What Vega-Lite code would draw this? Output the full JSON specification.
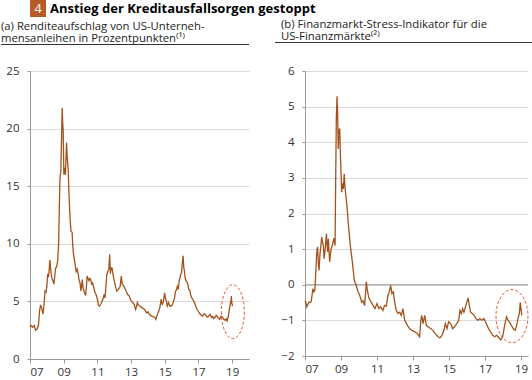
{
  "$schema": "https://vega.github.io/schema/vega-lite/v6.json",
  "padding": 0,
  "background": "white",
  "config": {
    "font": "Open Sans",
    "view": {"stroke": null},
    "axis": {"labelFontSize": 11.5, "labelColor": "#333", "domainColor": "#999", "tickColor": "#999", "gridColor": "#dadada", "labelFont": "Open Sans", "labelOverlap": false}
  },
  "datasets": {
    "credit": [
      {"year": 2007.0, "value": 2.8}, {"year": 2007.06, "value": 2.9}, {"year": 2007.15, "value": 2.75}, {"year": 2007.25, "value": 2.9}, {"year": 2007.33, "value": 2.5}, {"year": 2007.42, "value": 2.6}, {"year": 2007.5, "value": 2.9}, {"year": 2007.57, "value": 4.2}, {"year": 2007.63, "value": 4.7}, {"year": 2007.7, "value": 4.4}, {"year": 2007.77, "value": 3.9}, {"year": 2007.84, "value": 4.8}, {"year": 2007.89, "value": 5.9}, {"year": 2007.95, "value": 5.8}, {"year": 2008.0, "value": 6.3}, {"year": 2008.05, "value": 7.4}, {"year": 2008.1, "value": 7.1}, {"year": 2008.18, "value": 8.6}, {"year": 2008.24, "value": 7.6}, {"year": 2008.3, "value": 7.0}, {"year": 2008.36, "value": 6.8}, {"year": 2008.42, "value": 6.5}, {"year": 2008.47, "value": 7.2}, {"year": 2008.52, "value": 7.9}, {"year": 2008.58, "value": 8.0}, {"year": 2008.64, "value": 8.5}, {"year": 2008.7, "value": 10.0}, {"year": 2008.72, "value": 11.7}, {"year": 2008.76, "value": 14.5}, {"year": 2008.78, "value": 15.7}, {"year": 2008.83, "value": 16.3}, {"year": 2008.88, "value": 19.5}, {"year": 2008.91, "value": 21.8}, {"year": 2008.94, "value": 20.5}, {"year": 2008.97, "value": 19.8}, {"year": 2009.01, "value": 16.0}, {"year": 2009.05, "value": 16.6}, {"year": 2009.1, "value": 16.0}, {"year": 2009.14, "value": 17.5}, {"year": 2009.17, "value": 18.8}, {"year": 2009.21, "value": 17.5}, {"year": 2009.24, "value": 17.0}, {"year": 2009.27, "value": 16.4}, {"year": 2009.31, "value": 14.5}, {"year": 2009.35, "value": 13.1}, {"year": 2009.39, "value": 12.0}, {"year": 2009.43, "value": 11.1}, {"year": 2009.5, "value": 11.0}, {"year": 2009.54, "value": 9.8}, {"year": 2009.58, "value": 9.1}, {"year": 2009.64, "value": 8.6}, {"year": 2009.7, "value": 8.0}, {"year": 2009.74, "value": 7.6}, {"year": 2009.8, "value": 7.8}, {"year": 2009.86, "value": 7.4}, {"year": 2009.92, "value": 6.8}, {"year": 2009.97, "value": 6.6}, {"year": 2010.02, "value": 5.9}, {"year": 2010.06, "value": 6.3}, {"year": 2010.1, "value": 6.9}, {"year": 2010.15, "value": 6.2}, {"year": 2010.2, "value": 5.9}, {"year": 2010.25, "value": 5.7}, {"year": 2010.3, "value": 5.5}, {"year": 2010.35, "value": 6.3}, {"year": 2010.39, "value": 7.2}, {"year": 2010.44, "value": 7.0}, {"year": 2010.5, "value": 6.8}, {"year": 2010.55, "value": 7.0}, {"year": 2010.6, "value": 6.9}, {"year": 2010.66, "value": 6.5}, {"year": 2010.72, "value": 6.6}, {"year": 2010.79, "value": 6.2}, {"year": 2010.85, "value": 5.8}, {"year": 2010.92, "value": 5.6}, {"year": 2011.0, "value": 5.2}, {"year": 2011.06, "value": 4.7}, {"year": 2011.12, "value": 4.6}, {"year": 2011.2, "value": 4.75}, {"year": 2011.28, "value": 5.0}, {"year": 2011.35, "value": 5.3}, {"year": 2011.4, "value": 5.6}, {"year": 2011.45, "value": 5.3}, {"year": 2011.5, "value": 6.2}, {"year": 2011.56, "value": 7.35}, {"year": 2011.62, "value": 7.6}, {"year": 2011.68, "value": 7.8}, {"year": 2011.73, "value": 9.1}, {"year": 2011.77, "value": 7.4}, {"year": 2011.82, "value": 7.9}, {"year": 2011.87, "value": 7.9}, {"year": 2011.92, "value": 7.4}, {"year": 2011.97, "value": 7.0}, {"year": 2012.03, "value": 6.6}, {"year": 2012.09, "value": 6.2}, {"year": 2012.15, "value": 5.9}, {"year": 2012.22, "value": 6.0}, {"year": 2012.28, "value": 6.1}, {"year": 2012.35, "value": 6.3}, {"year": 2012.42, "value": 7.2}, {"year": 2012.47, "value": 6.5}, {"year": 2012.54, "value": 6.4}, {"year": 2012.62, "value": 6.2}, {"year": 2012.7, "value": 5.9}, {"year": 2012.8, "value": 5.6}, {"year": 2012.88, "value": 5.5}, {"year": 2012.95, "value": 5.2}, {"year": 2013.02, "value": 5.0}, {"year": 2013.1, "value": 4.9}, {"year": 2013.18, "value": 4.75}, {"year": 2013.27, "value": 4.3}, {"year": 2013.33, "value": 4.6}, {"year": 2013.37, "value": 4.9}, {"year": 2013.43, "value": 4.7}, {"year": 2013.5, "value": 4.6}, {"year": 2013.6, "value": 4.5}, {"year": 2013.7, "value": 4.4}, {"year": 2013.8, "value": 4.3}, {"year": 2013.92, "value": 4.0}, {"year": 2014.0, "value": 4.1}, {"year": 2014.08, "value": 3.9}, {"year": 2014.2, "value": 3.73}, {"year": 2014.3, "value": 3.7}, {"year": 2014.36, "value": 3.65}, {"year": 2014.42, "value": 3.6}, {"year": 2014.47, "value": 3.44}, {"year": 2014.53, "value": 3.7}, {"year": 2014.59, "value": 4.0}, {"year": 2014.65, "value": 4.2}, {"year": 2014.71, "value": 4.5}, {"year": 2014.79, "value": 5.2}, {"year": 2014.85, "value": 4.7}, {"year": 2014.92, "value": 5.0}, {"year": 2014.99, "value": 5.75}, {"year": 2015.05, "value": 5.2}, {"year": 2015.1, "value": 5.0}, {"year": 2015.15, "value": 4.6}, {"year": 2015.22, "value": 4.9}, {"year": 2015.3, "value": 4.6}, {"year": 2015.38, "value": 4.6}, {"year": 2015.45, "value": 4.7}, {"year": 2015.52, "value": 5.0}, {"year": 2015.58, "value": 5.3}, {"year": 2015.64, "value": 5.9}, {"year": 2015.7, "value": 6.0}, {"year": 2015.74, "value": 6.3}, {"year": 2015.8, "value": 6.05}, {"year": 2015.86, "value": 6.8}, {"year": 2015.9, "value": 7.05}, {"year": 2015.95, "value": 7.35}, {"year": 2016.0, "value": 7.5}, {"year": 2016.03, "value": 8.2}, {"year": 2016.09, "value": 8.95}, {"year": 2016.13, "value": 7.9}, {"year": 2016.17, "value": 7.6}, {"year": 2016.21, "value": 7.05}, {"year": 2016.26, "value": 6.8}, {"year": 2016.31, "value": 6.7}, {"year": 2016.37, "value": 6.5}, {"year": 2016.42, "value": 6.05}, {"year": 2016.48, "value": 6.0}, {"year": 2016.53, "value": 5.6}, {"year": 2016.6, "value": 5.3}, {"year": 2016.66, "value": 5.2}, {"year": 2016.72, "value": 5.0}, {"year": 2016.8, "value": 4.75}, {"year": 2016.86, "value": 4.5}, {"year": 2016.92, "value": 4.3}, {"year": 2017.0, "value": 4.1}, {"year": 2017.08, "value": 3.93}, {"year": 2017.16, "value": 3.8}, {"year": 2017.24, "value": 3.73}, {"year": 2017.32, "value": 3.9}, {"year": 2017.4, "value": 3.87}, {"year": 2017.48, "value": 3.7}, {"year": 2017.56, "value": 3.65}, {"year": 2017.64, "value": 3.8}, {"year": 2017.7, "value": 3.87}, {"year": 2017.78, "value": 3.6}, {"year": 2017.85, "value": 3.7}, {"year": 2017.9, "value": 3.5}, {"year": 2017.98, "value": 3.6}, {"year": 2018.05, "value": 3.8}, {"year": 2018.1, "value": 3.73}, {"year": 2018.18, "value": 3.55}, {"year": 2018.26, "value": 3.44}, {"year": 2018.34, "value": 3.7}, {"year": 2018.42, "value": 3.65}, {"year": 2018.5, "value": 3.45}, {"year": 2018.58, "value": 3.36}, {"year": 2018.64, "value": 3.5}, {"year": 2018.7, "value": 3.3}, {"year": 2018.74, "value": 3.5}, {"year": 2018.78, "value": 3.73}, {"year": 2018.82, "value": 4.2}, {"year": 2018.86, "value": 4.5}, {"year": 2018.9, "value": 4.9}, {"year": 2018.93, "value": 4.8}, {"year": 2018.95, "value": 5.47}, {"year": 2018.98, "value": 4.9}, {"year": 2019.02, "value": 4.6}
    ],
    "stress": [
      {"year": 2007.0, "value": -0.45}, {"year": 2007.04, "value": -0.49}, {"year": 2007.1, "value": -0.62}, {"year": 2007.16, "value": -0.55}, {"year": 2007.22, "value": -0.49}, {"year": 2007.3, "value": -0.5}, {"year": 2007.35, "value": -0.45}, {"year": 2007.44, "value": -0.11}, {"year": 2007.5, "value": -0.2}, {"year": 2007.55, "value": -0.15}, {"year": 2007.59, "value": 0.26}, {"year": 2007.64, "value": 0.8}, {"year": 2007.67, "value": 1.0}, {"year": 2007.7, "value": 1.06}, {"year": 2007.74, "value": 0.6}, {"year": 2007.78, "value": 0.4}, {"year": 2007.83, "value": 0.85}, {"year": 2007.88, "value": 1.1}, {"year": 2007.93, "value": 1.34}, {"year": 2007.97, "value": 1.2}, {"year": 2008.02, "value": 1.1}, {"year": 2008.06, "value": 0.73}, {"year": 2008.1, "value": 0.9}, {"year": 2008.14, "value": 1.1}, {"year": 2008.19, "value": 1.43}, {"year": 2008.23, "value": 1.1}, {"year": 2008.26, "value": 0.92}, {"year": 2008.3, "value": 1.29}, {"year": 2008.34, "value": 0.9}, {"year": 2008.37, "value": 0.64}, {"year": 2008.41, "value": 0.85}, {"year": 2008.45, "value": 1.0}, {"year": 2008.52, "value": 1.1}, {"year": 2008.56, "value": 1.2}, {"year": 2008.6, "value": 1.3}, {"year": 2008.64, "value": 1.2}, {"year": 2008.67, "value": 1.1}, {"year": 2008.7, "value": 2.69}, {"year": 2008.74, "value": 4.65}, {"year": 2008.78, "value": 5.29}, {"year": 2008.81, "value": 4.85}, {"year": 2008.85, "value": 3.81}, {"year": 2008.89, "value": 4.37}, {"year": 2008.93, "value": 4.37}, {"year": 2008.97, "value": 3.6}, {"year": 2009.04, "value": 2.6}, {"year": 2009.08, "value": 2.85}, {"year": 2009.13, "value": 2.69}, {"year": 2009.18, "value": 3.11}, {"year": 2009.23, "value": 2.69}, {"year": 2009.33, "value": 2.22}, {"year": 2009.43, "value": 1.57}, {"year": 2009.52, "value": 1.1}, {"year": 2009.63, "value": 0.64}, {"year": 2009.74, "value": 0.12}, {"year": 2009.83, "value": 0.0}, {"year": 2009.94, "value": -0.18}, {"year": 2010.04, "value": -0.3}, {"year": 2010.15, "value": -0.49}, {"year": 2010.22, "value": -0.45}, {"year": 2010.31, "value": -0.58}, {"year": 2010.37, "value": -0.2}, {"year": 2010.41, "value": 0.08}, {"year": 2010.45, "value": -0.1}, {"year": 2010.54, "value": -0.36}, {"year": 2010.67, "value": -0.49}, {"year": 2010.78, "value": -0.58}, {"year": 2010.89, "value": -0.67}, {"year": 2011.0, "value": -0.53}, {"year": 2011.11, "value": -0.67}, {"year": 2011.2, "value": -0.62}, {"year": 2011.33, "value": -0.72}, {"year": 2011.42, "value": -0.58}, {"year": 2011.52, "value": -0.6}, {"year": 2011.61, "value": -0.3}, {"year": 2011.68, "value": -0.2}, {"year": 2011.76, "value": -0.02}, {"year": 2011.83, "value": -0.25}, {"year": 2011.91, "value": -0.2}, {"year": 2011.98, "value": -0.48}, {"year": 2012.07, "value": -0.72}, {"year": 2012.17, "value": -0.81}, {"year": 2012.26, "value": -0.77}, {"year": 2012.35, "value": -0.86}, {"year": 2012.44, "value": -0.67}, {"year": 2012.54, "value": -1.0}, {"year": 2012.69, "value": -1.14}, {"year": 2012.81, "value": -1.23}, {"year": 2012.94, "value": -1.28}, {"year": 2013.09, "value": -1.32}, {"year": 2013.24, "value": -1.37}, {"year": 2013.37, "value": -1.46}, {"year": 2013.43, "value": -1.04}, {"year": 2013.48, "value": -0.86}, {"year": 2013.56, "value": -1.09}, {"year": 2013.65, "value": -0.86}, {"year": 2013.74, "value": -1.14}, {"year": 2013.83, "value": -1.18}, {"year": 2013.98, "value": -1.23}, {"year": 2014.11, "value": -1.28}, {"year": 2014.24, "value": -1.37}, {"year": 2014.39, "value": -1.46}, {"year": 2014.5, "value": -1.49}, {"year": 2014.61, "value": -1.42}, {"year": 2014.72, "value": -1.28}, {"year": 2014.8, "value": -1.09}, {"year": 2014.89, "value": -1.23}, {"year": 2014.98, "value": -1.04}, {"year": 2015.09, "value": -1.09}, {"year": 2015.2, "value": -1.23}, {"year": 2015.31, "value": -1.18}, {"year": 2015.43, "value": -1.09}, {"year": 2015.54, "value": -1.0}, {"year": 2015.61, "value": -0.72}, {"year": 2015.69, "value": -0.81}, {"year": 2015.76, "value": -0.67}, {"year": 2015.83, "value": -0.77}, {"year": 2015.94, "value": -0.58}, {"year": 2016.06, "value": -0.37}, {"year": 2016.13, "value": -0.58}, {"year": 2016.2, "value": -0.77}, {"year": 2016.31, "value": -0.81}, {"year": 2016.39, "value": -0.86}, {"year": 2016.5, "value": -0.95}, {"year": 2016.61, "value": -1.0}, {"year": 2016.72, "value": -0.95}, {"year": 2016.83, "value": -1.0}, {"year": 2016.94, "value": -0.95}, {"year": 2017.07, "value": -1.09}, {"year": 2017.2, "value": -1.23}, {"year": 2017.31, "value": -1.32}, {"year": 2017.43, "value": -1.42}, {"year": 2017.54, "value": -1.46}, {"year": 2017.65, "value": -1.42}, {"year": 2017.76, "value": -1.48}, {"year": 2017.87, "value": -1.55}, {"year": 2017.98, "value": -1.46}, {"year": 2018.06, "value": -1.23}, {"year": 2018.13, "value": -1.04}, {"year": 2018.2, "value": -0.9}, {"year": 2018.28, "value": -1.0}, {"year": 2018.35, "value": -1.04}, {"year": 2018.46, "value": -1.14}, {"year": 2018.57, "value": -1.23}, {"year": 2018.68, "value": -1.28}, {"year": 2018.76, "value": -1.14}, {"year": 2018.83, "value": -0.95}, {"year": 2018.91, "value": -0.81}, {"year": 2018.96, "value": -0.49}, {"year": 2019.0, "value": -0.67}, {"year": 2019.05, "value": -0.86}
    ]
  },
  "vconcat": [
    {
      "width": 532,
      "height": 18,
      "data": {"values": [{"num": "4", "title": "Anstieg der Kreditausfallsorgen gestoppt"}]},
      "layer": [
        {"mark": {"type": "rect", "color": "#b75a26"}, "encoding": {"x": {"value": 0}, "x2": {"value": 16}, "y": {"value": 0}, "y2": {"value": 17}}},
        {"mark": {"type": "text", "color": "white", "fontSize": 12.5, "align": "center", "baseline": "middle", "font": "Open Sans"}, "encoding": {"x": {"value": 8}, "y": {"value": 9}, "text": {"field": "num"}}},
        {"mark": {"type": "text", "color": "#000", "fontSize": 13, "fontWeight": "bold", "align": "left", "baseline": "middle", "font": "Open Sans"}, "encoding": {"x": {"value": 20}, "y": {"value": 9}, "text": {"field": "title"}}}
      ]
    },
    {
      "hconcat": [
        {
          "width": 219,
          "height": 288,
          "layer": [
            {"data": {"values": [{"line1": "(a) Renditeaufschlag von US-Unterneh-", "line2": "mensanleihen in Prozentpunkten⁽¹⁾"}]},
             "mark": {"type": "text", "align": "left", "baseline": "alphabetic", "fontSize": 11.3, "color": "#222", "font": "Open Sans"},
             "encoding": {"x": {"value": -29}, "y": {"value": -41.2}, "text": {"field": "line1"}}},
            {"data": {"values": [{"line1": "(a) Renditeaufschlag von US-Unterneh-", "line2": "mensanleihen in Prozentpunkten⁽¹⁾"}]},
             "mark": {"type": "text", "align": "left", "baseline": "alphabetic", "fontSize": 11.3, "color": "#222", "font": "Open Sans"},
             "encoding": {"x": {"value": -29}, "y": {"value": -29.3}, "text": {"field": "line2"}}},
            {"data": {"values": [{}]}, "mark": {"type": "rule", "color": "#333", "strokeWidth": 1}, "encoding": {"x": {"value": -29}, "x2": {"value": 219}, "y": {"value": -26.5}}},
            {
              "data": {"name": "credit"},
              "mark": {"type": "line", "color": "#a3521d", "strokeWidth": 1.3},
              "encoding": {
                "x": {"field": "year", "type": "quantitative", "scale": {"domain": [2007, 2020], "nice": false, "zero": false},
                      "axis": {"values": [2007, 2009, 2011, 2013, 2015, 2017, 2019], "labelExpr": "substring(format(datum.value, 'd'), 2)", "grid": false, "title": null, "tickSize": 4, "labelPadding": 3, "labelOverlap": false}},
                "y": {"field": "value", "type": "quantitative", "scale": {"domain": [0, 25], "nice": false},
                      "axis": {"values": [0, 5, 10, 15, 20, 25], "title": null, "grid": true, "tickSize": 3, "labelPadding": 8, "labelOverlap": false}}
              }
            },
            {
              "data": {"values": [{"year": 2019.04, "value": 4.1}]},
              "mark": {"type": "point", "shape": "M -0.426 0 A 0.426 1 0 1 0 0.426 0 A 0.426 1 0 1 0 -0.426 0 Z", "size": 2916, "filled": false, "stroke": "#ee5a3c", "strokeWidth": 1, "strokeDash": [3, 2], "opacity": 1},
              "encoding": {
                "x": {"field": "year", "type": "quantitative", "axis": {"values": [2007, 2009, 2011, 2013, 2015, 2017, 2019], "labelExpr": "substring(format(datum.value, 'd'), 2)", "grid": false, "title": null, "tickSize": 4, "labelPadding": 3, "labelOverlap": false}},
                "y": {"field": "value", "type": "quantitative", "axis": {"values": [0, 5, 10, 15, 20, 25], "title": null, "grid": true, "tickSize": 3, "labelPadding": 8, "labelOverlap": false}}
              }
            }
          ]
        },
        {
          "width": 223,
          "height": 285,
          "layer": [
            {"data": {"values": [{"line1": "(b) Finanzmarkt-Stress-Indikator für die", "line2": "US-Finanzmärkte⁽²⁾"}]},
             "mark": {"type": "text", "align": "left", "baseline": "alphabetic", "fontSize": 11.3, "color": "#222", "font": "Open Sans"},
             "encoding": {"x": {"value": -24}, "y": {"value": -43.2}, "text": {"field": "line1"}}},
            {"data": {"values": [{"line1": "(b) Finanzmarkt-Stress-Indikator für die", "line2": "US-Finanzmärkte⁽²⁾"}]},
             "mark": {"type": "text", "align": "left", "baseline": "alphabetic", "fontSize": 11.3, "color": "#222", "font": "Open Sans"},
             "encoding": {"x": {"value": -24}, "y": {"value": -31.3}, "text": {"field": "line2"}}},
            {"data": {"values": [{}]}, "mark": {"type": "rule", "color": "#333", "strokeWidth": 1}, "encoding": {"x": {"value": -30}, "x2": {"value": 230}, "y": {"value": -28.5}}},
            {"data": {"values": [{}]}, "mark": {"type": "rule", "color": "#9a9a9a", "strokeWidth": 1},
             "encoding": {"y": {"datum": 0, "type": "quantitative", "axis": {"values": [-2, -1, 0, 1, 2, 3, 4, 5, 6], "title": null, "grid": true, "tickSize": 3, "labelPadding": 8, "labelOverlap": false}}}},
            {
              "data": {"name": "stress"},
              "mark": {"type": "line", "color": "#a3521d", "strokeWidth": 1.3},
              "encoding": {
                "x": {"field": "year", "type": "quantitative", "scale": {"domain": [2007, 2019.39], "nice": false, "zero": false},
                      "axis": {"values": [2007, 2009, 2011, 2013, 2015, 2017, 2019], "labelExpr": "substring(format(datum.value, 'd'), 2)", "grid": false, "title": null, "tickSize": 4, "labelPadding": 3, "labelOverlap": false}},
                "y": {"field": "value", "type": "quantitative", "scale": {"domain": [-2, 6], "nice": false},
                      "axis": {"values": [-2, -1, 0, 1, 2, 3, 4, 5, 6], "title": null, "grid": true, "tickSize": 3, "labelPadding": 8, "labelOverlap": false}}
              }
            },
            {
              "data": {"values": [{"year": 2018.5, "value": -0.88}]},
              "mark": {"type": "point", "shape": "M -0.604 0 A 0.604 1 0 1 0 0.604 0 A 0.604 1 0 1 0 -0.604 0 Z", "size": 2809, "filled": false, "stroke": "#ee5a3c", "strokeWidth": 1, "strokeDash": [3, 2], "opacity": 1},
              "encoding": {
                "x": {"field": "year", "type": "quantitative", "axis": {"values": [2007, 2009, 2011, 2013, 2015, 2017, 2019], "labelExpr": "substring(format(datum.value, 'd'), 2)", "grid": false, "title": null, "tickSize": 4, "labelPadding": 3, "labelOverlap": false}},
                "y": {"field": "value", "type": "quantitative", "axis": {"values": [-2, -1, 0, 1, 2, 3, 4, 5, 6], "title": null, "grid": true, "tickSize": 3, "labelPadding": 8, "labelOverlap": false}}
              }
            }
          ]
        }
      ],
      "spacing": 24
    }
  ],
  "spacing": 0
}
